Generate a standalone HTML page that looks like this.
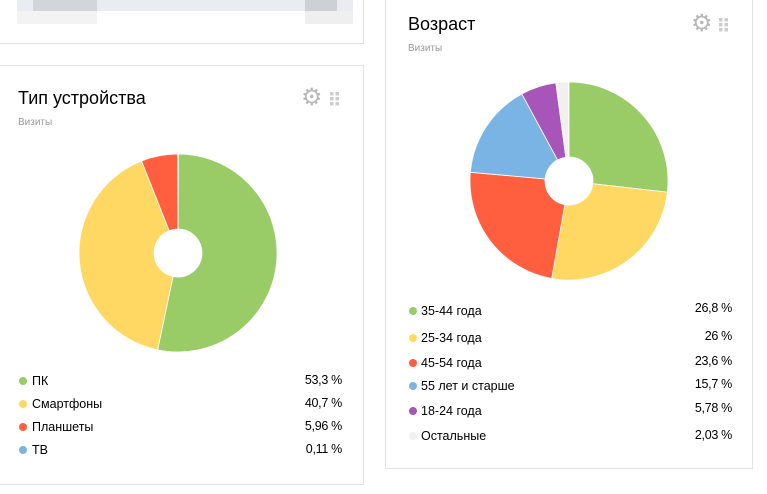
<!DOCTYPE html>
<html><head><meta charset="utf-8"><style>
body{margin:0;width:767px;height:494px;background:#fff;position:relative;overflow:hidden;font-family:"Liberation Sans","Noto Sans CJK JP",sans-serif;color:#000}
.card{position:absolute;background:#fff;border:1px solid #e2e2e2;box-sizing:border-box}
.t{position:absolute;font-size:18px}
.s{position:absolute;font-size:10px;color:#999}
.row{position:absolute;font-size:12.5px;height:16px;line-height:16px}
.dot{position:absolute;width:8px;height:8px;border-radius:50%;top:4px}
.v{position:absolute;font-size:12.5px;text-align:right;width:80px;line-height:16px;letter-spacing:-0.3px}
.gear{position:absolute;font-size:24px;color:#b8b8b8;line-height:24px}
</style></head><body>
<div class="card" style="left:-2px;top:-20px;width:366px;height:64px"></div>
<div style="position:absolute;left:17px;top:0;width:336px;height:11px;background:#e9ecf0"></div>
<div style="position:absolute;left:33px;top:0;width:64px;height:11px;background:#d2d5d9"></div>
<div style="position:absolute;left:305px;top:0;width:32px;height:11px;background:#cdd0d4"></div>
<div style="position:absolute;left:17px;top:11px;width:80px;height:13px;background:#f3f3f3"></div>
<div style="position:absolute;left:305px;top:11px;width:48px;height:13px;background:#efefef"></div>
<div class="card" style="left:-2px;top:65px;width:366px;height:420px"></div>
<div class="card" style="left:385px;top:-20px;width:368px;height:489px"></div>

<div class="t" style="left:18px;top:88px">Тип устройства</div>
<div class="s" style="left:18px;top:117px">Визиты</div>
<div class="gear" style="left:301px;top:86px">⚙</div>
<svg style="position:absolute;left:330px;top:92px" width="10" height="14"><g fill="#ccc"><rect x="0" y="0" width="3.5" height="3.5"/><rect x="5.5" y="0" width="3.5" height="3.5"/><rect x="0" y="5" width="3.5" height="3.5"/><rect x="5.5" y="5" width="3.5" height="3.5"/><rect x="0" y="10" width="3.5" height="3.5"/><rect x="5.5" y="10" width="3.5" height="3.5"/></g></svg>

<div class="t" style="left:408px;top:14px">Возраст</div>
<div class="s" style="left:408px;top:43px">Визиты</div>
<div class="gear" style="left:691px;top:12px">⚙</div>
<svg style="position:absolute;left:719px;top:18px" width="10" height="14"><g fill="#ccc"><rect x="0" y="0" width="3.5" height="3.5"/><rect x="5.5" y="0" width="3.5" height="3.5"/><rect x="0" y="5" width="3.5" height="3.5"/><rect x="5.5" y="5" width="3.5" height="3.5"/><rect x="0" y="10" width="3.5" height="3.5"/><rect x="5.5" y="10" width="3.5" height="3.5"/></g></svg>

<svg id="p1" style="position:absolute;left:0;top:0" width="767" height="494"></svg>

<div id="leg"></div>
<script>
function pie(cx,cy,r,h,data){
 let s='',a=-Math.PI/2;
 for(const [v,c] of data){
  const b=a+v/100*2*Math.PI, L=(b-a)>Math.PI?1:0;
  const p=(ang,rr)=>[(cx+rr*Math.cos(ang)).toFixed(2),(cy+rr*Math.sin(ang)).toFixed(2)];
  const [x1,y1]=p(a,r),[x2,y2]=p(b,r),[x3,y3]=p(b,h),[x4,y4]=p(a,h);
  s+=`<path d="M${x1} ${y1}A${r} ${r} 0 ${L} 1 ${x2} ${y2}L${x3} ${y3}A${h} ${h} 0 ${L} 0 ${x4} ${y4}Z" fill="${c}" stroke="#fff" stroke-width="0.8"/>`;
  a=b;
 }
 return s;
}
const G='#99cc66',Y='#ffd863',R='#ff5f3e',B='#79b4e5',P='#a855b9',E='#f1f0ee';
document.getElementById('p1').innerHTML=
 pie(178,253,99,24,[[53.3,G],[40.7,Y],[5.96,R],[0.11,B]])+
 pie(569,181,99,24,[[26.8,G],[26,Y],[23.6,R],[15.7,B],[5.78,P],[2.03,E]]);
let h='';
const L1=[['ПК','53,3 %',G,381],['Смартфоны','40,7 %',Y,404],['Планшеты','5,96 %',R,427],['ТВ','0,11 %',B,450]];
for(const [t,v,c,y] of L1){h+=`<div class="dot" style="left:19px;top:${y-4}px;background:${c}"></div><div class="row" style="left:32px;top:${y-8}px">${t}</div><div class="v" style="left:262px;top:${y-9}px">${v}</div>`;}
const L2=[['35-44 года','26,8 %',G,311,308],['25-34 года','26 %',Y,338,336],['45-54 года','23,6 %',R,363,361],['55 лет и старше','15,7 %',B,386,384],['18-24 года','5,78 %',P,411,408],['Остальные','2,03 %',E,436,435]];
for(const [t,v,c,y,vy] of L2){h+=`<div class="dot" style="left:409px;top:${y-4}px;background:${c}"></div><div class="row" style="left:421px;top:${y-8}px">${t}</div><div class="v" style="left:652px;top:${vy-8}px">${v}</div>`;}
document.getElementById('leg').innerHTML=h;
</script>
</body></html>
